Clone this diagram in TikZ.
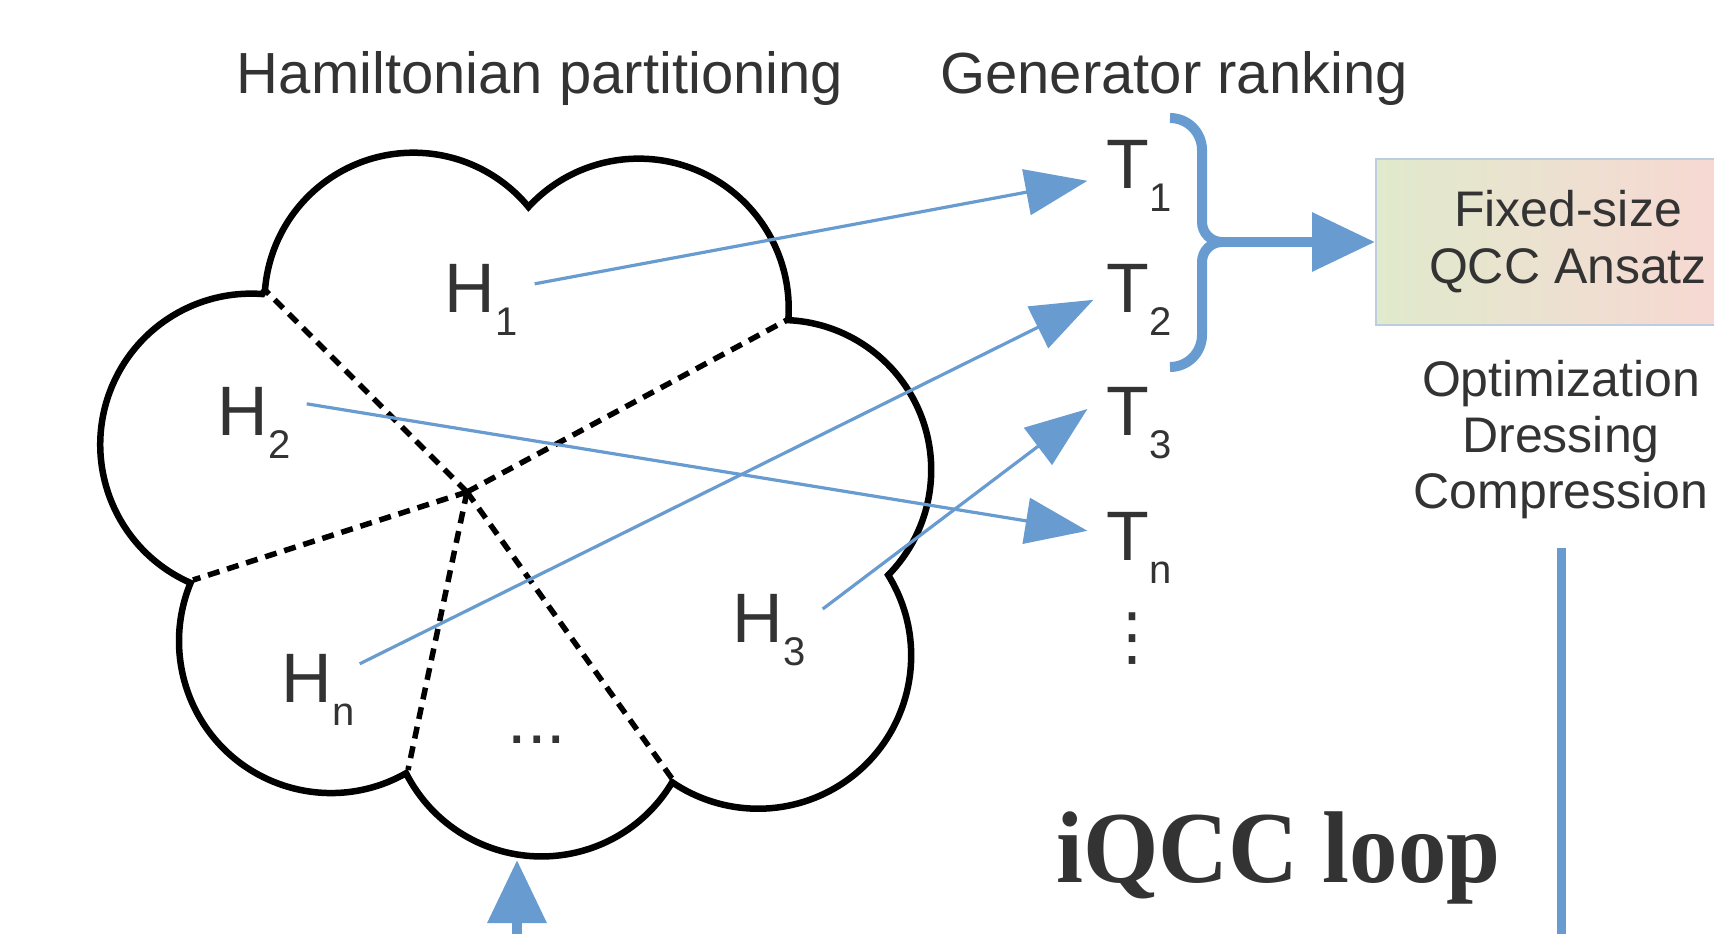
\documentclass[tikz,border=0pt]{standalone}
\usepackage{fontspec}
\setmainfont{Liberation Sans}
\newfontfamily\loopfont[FakeStretch=0.95]{Liberation Serif}
\newfontfamily\symfont{DejaVu Sans}
\usepackage{tikz}
\usetikzlibrary{arrows.meta, positioning}

\definecolor{linkblue}{RGB}{104,155,207}
\definecolor{inkgrey}{RGB}{51,51,51}
\definecolor{ansatzgreen}{RGB}{224,234,204}
\definecolor{ansatzpink}{RGB}{250,214,212}
\definecolor{ansatzedge}{RGB}{188,205,222}

\newcommand{\sublab}[2]{#1\raisebox{-0.34em}{\fontsize{40}{44}\selectfont #2}}

\begin{document}
\begin{tikzpicture}[x=1pt, y=-1pt,
        title/.style={anchor=base, inner sep=0, text=inkgrey, font=\fontsize{58}{66}\selectfont},
        part/.style={anchor=base west, inner sep=0, text=inkgrey, font=\fontsize{70}{80}\selectfont},
        cloudline/.style={line width=6.5pt},
        cut/.style={line width=5.5pt, dash pattern=on 12pt off 8pt},
        link/.style={linkblue, line width=3.2pt, -{Triangle[length=62pt, width=46pt]}},
        flow/.style={linkblue, line width=10pt, -{Triangle[length=63pt, width=57pt]}},
        ansatzbox/.style={draw=ansatzedge, line width=2pt, left color=ansatzgreen, right color=ansatzpink,
            minimum width=384pt, minimum height=166pt, inner sep=0, align=center, text=inkgrey,
            font=\fontsize{50}{57}\selectfont},
        steptext/.style={anchor=north, inner sep=0, align=center, text=inkgrey, font=\fontsize{50}{56}\selectfont}]
        \useasboundingbox (0,0) rectangle (1714,934);
        \clip (0,0) rectangle (1714,934);

        \node[title] (partitioning) at (540, 94) {Hamiltonian partitioning};
        \node[title] (ranking) at (1174, 94) {Generator ranking};

        % cloud of the Hamiltonian
        \draw[cloudline] (265,290)
            arc[start angle=184.5, end angle=320.5, radius=149]
            arc[start angle=222.7, end angle=364.4, radius=150]
            arc[start angle=272.7, end angle=404.5, radius=150]
            arc[start angle=-31.8, end angle=124.2, radius=153]
            arc[start angle=30.8, end angle=153.1, radius=152]
            arc[start angle=60.4, end angle=202.5, radius=152]
            arc[start angle=113.7, end angle=274.2, radius=151]
            -- cycle;
        \coordinate (hub) at (467, 492);
        \coordinate (cuspnw) at (265, 290);
        \coordinate (cuspne) at (787, 320);
        \coordinate (cuspw) at (193, 580);
        \coordinate (cuspsw) at (408, 770);
        \coordinate (cuspse) at (673, 780);
        \draw[cut] (hub) -- (cuspnw);
        \draw[cut] (hub) -- (cuspne);
        \draw[cut] (hub) -- (cuspw);
        \draw[cut] (hub) -- (cuspsw);
        \draw[cut] (hub) -- (cuspse);

        \node[part] (h1) at (444.5, 312) {\sublab{H}{1}};
        \node[part] (h2) at (217.5, 435) {\sublab{H}{2}};
        \node[part] (h3) at (732.5, 642) {\sublab{H}{3}};
        \node[part] (hn) at (281.5, 702) {\sublab{H}{n}};
        \node[part, anchor=base] (hmore) at (537, 743) {...};

        \node[part] (t1) at (1106.4, 188) {\sublab{T}{1}};
        \node[part] (t2) at (1106.4, 312) {\sublab{T}{2}};
        \node[part] (t3) at (1106.4, 435) {\sublab{T}{3}};
        \node[part] (tn) at (1106.4, 560) {\sublab{T}{n}};
        \node[inner sep=0, text=inkgrey, font=\symfont\fontsize{64}{70}\selectfont] (tmore) at (1132, 639) {⋮};

        \draw[link] ([shift={(17,-16)}]h1.east) -- ([shift={(-19,5)}]t1.west);
        \draw[link] ([shift={(16,-19)}]h2.east) -- ([shift={(-19,-17)}]tn.west);
        \draw[link] ([shift={(5,-26)}]hn.east) -- ([shift={(-13,0)}]t2.west);
        \draw[link] ([shift={(17,-21)}]h3.east) -- ([shift={(-19,-14)}]t3.west);

        % brace round T1 and T2
        \coordinate (bracetip) at (1222, 242);
        \draw[linkblue, line width=10pt] (1170,118) arc[start angle=-90, end angle=0, radius=32]
            -- (1202,222) arc[start angle=180, end angle=90, radius=20];
        \draw[linkblue, line width=10pt] (1170,367) arc[start angle=90, end angle=0, radius=32]
            -- (1202,262) arc[start angle=180, end angle=270, radius=20];

        \node[ansatzbox] (ansatz) at (1568, 242) {Fixed-size\\QCC Ansatz};
        \draw[flow] (bracetip) -- (ansatz.west);

        \node[steptext] (steps) at (1561, 360) {Optimization\\Dressing\\Compression};
        \coordinate (loopend) at (1561, 960);
        \draw[linkblue, line width=9pt] ([shift={(0,29)}]steps.south) -- (loopend);

        \node[anchor=base west, inner sep=0, text=inkgrey, font=\loopfont\bfseries\fontsize{102}{110}\selectfont] (looplabel) at (1056, 882) {iQCC loop};

        \coordinate (loopstart) at (517, 960);
        \coordinate (cloudbase) at (517, 860);
        \draw[flow] (loopstart) -- (cloudbase);
    \end{tikzpicture}
\end{document}
